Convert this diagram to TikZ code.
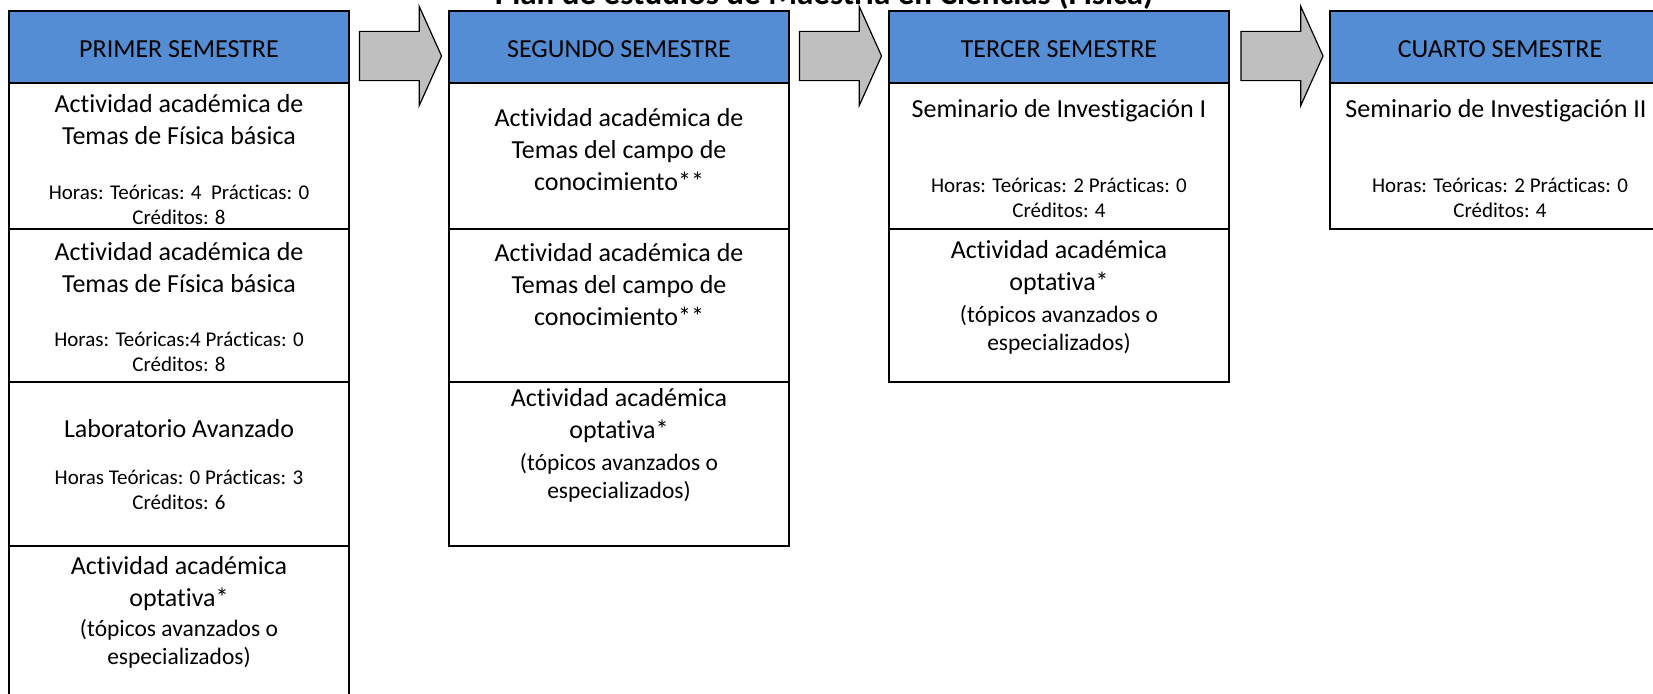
\documentclass[tikz,border=0pt]{standalone}
\usepackage{fontspec}
\setmainfont{Carlito}[Ligatures=NoCommon]
\usetikzlibrary{shapes.arrows,calc}
\definecolor{semblue}{RGB}{84,141,212}
\definecolor{arrgray}{RGB}{191,191,191}
\newcommand\fmain{\fontsize{26}{32}\selectfont}
\newcommand\fmed{\fontsize{23.5}{28}\selectfont}
\newcommand\fsmall{\fontsize{21}{25}\selectfont}
\begin{document}
\begin{tikzpicture}[x=1pt,y=-1pt,
    hdr/.style={draw,fill=semblue,line width=1.8pt,minimum width=340pt,minimum height=72pt,
      inner sep=0pt,outer sep=0pt,anchor=north west,font=\fmain,text height=22pt,text depth=0pt},
    cell/.style={draw,line width=1.8pt,minimum width=340pt,inner sep=0pt,outer sep=0pt,anchor=north west},
    main/.style={align=center,font=\fmain,inner sep=0pt},
    med/.style={align=center,font=\fmed,inner sep=0pt},
    small/.style={align=center,font=\fsmall,inner sep=0pt},
    blockarrow/.style={single arrow,draw,fill=arrgray,line width=1.2pt,inner xsep=0pt,inner ysep=24pt,
      minimum height=82pt,single arrow head extend=25pt,single arrow tip angle=131.6}]
  \useasboundingbox (0,0) rectangle (1653,693);
  \clip (0,0) rectangle (1653,693);
  % title
  \node[anchor=base,font=\fontsize{33}{38}\selectfont\bfseries,inner sep=0pt] (ttl) at (824,5)
    {Plan de estudios de Maestría en Ciencias (Física)};
  % headers
  \node[hdr] (h1) at (9,11) {PRIMER SEMESTRE};
  \node[hdr] (h2) at (449,11) {SEGUNDO SEMESTRE};
  \node[hdr] (h3) at (889,11) {TERCER SEMESTRE};
  \node[hdr] (h4) at (1330,11) {CUARTO SEMESTRE};
  % arrows between semesters
  \node[blockarrow] (a1) at ($(h1.east)!0.5!(h2.west)+(-4,9)$) {};
  \node[blockarrow] (a2) at ($(h2.east)!0.5!(h3.west)+(-4,9)$) {};
  \node[blockarrow] (a3) at ($(h3.east)!0.5!(h4.west)+(-3,9)$) {};
  % first semester
  \node[cell,minimum height=146pt] (b11) at (9,83) {};
  \node[cell,minimum height=153pt] (b12) at (9,229) {};
  \node[cell,minimum height=164pt] (b13) at (9,382) {};
  \node[cell,minimum height=170pt] (b14) at (9,546) {};
  \node[main] (t11) at (179,120) {Actividad académica de\\Temas de Física básica};
  \node[small] (s11) at (179,204.5) {Horas: Teóricas: 4~ Prácticas: 0\\Créditos: 8};
  \node[main] (t12) at (179,267.5) {Actividad académica de\\Temas de Física básica};
  \node[small] (s12) at (179,351.5) {Horas: Teóricas:4 Prácticas: 0\\Créditos: 8};
  \node[main] (t13) at (179,429) {Laboratorio Avanzado};
  \node[small] (s13) at (179,490) {Horas Teóricas: 0 Prácticas: 3\\Créditos: 6};
  \node[main] (t14) at (179,584) {Actividad académica\\optativa*};
  \node[med] (s14) at (179,644) {(tópicos avanzados o\\especializados)};
  % second semester
  \node[cell,minimum height=146pt] (b21) at (449,83) {};
  \node[cell,minimum height=153pt] (b22) at (449,229) {};
  \node[cell,minimum height=164pt] (b23) at (449,382) {};
  \node[main] (t21) at (619,150) {Actividad académica de\\Temas del campo de\\conocimiento**};
  \node[main] (t22) at (619,285) {Actividad académica de\\Temas del campo de\\conocimiento**};
  \node[main] (t23) at (619,416) {Actividad académica\\optativa*};
  \node[med] (s23) at (619,477.5) {(tópicos avanzados o\\especializados)};
  % third semester
  \node[cell,minimum height=146pt] (b31) at (889,83) {};
  \node[cell,minimum height=153pt] (b32) at (889,229) {};
  \node[main] (t31) at (1059,111) {Seminario de Investigación I};
  \node[small] (s31) at (1059,197.5) {Horas: Teóricas: 2 Prácticas: 0\\Créditos: 4};
  \node[main] (t32) at (1059,268) {Actividad académica\\optativa*};
  \node[med] (s32) at (1059,329.5) {(tópicos avanzados o\\especializados)};
  % fourth semester
  \node[cell,minimum height=146pt] (b41) at (1330,83) {};
  \node[main] (t41) at (1496,111) {Seminario de Investigación II};
  \node[small] (s41) at (1500,197.5) {Horas: Teóricas: 2 Prácticas: 0\\Créditos: 4};
\end{tikzpicture}
\end{document}
